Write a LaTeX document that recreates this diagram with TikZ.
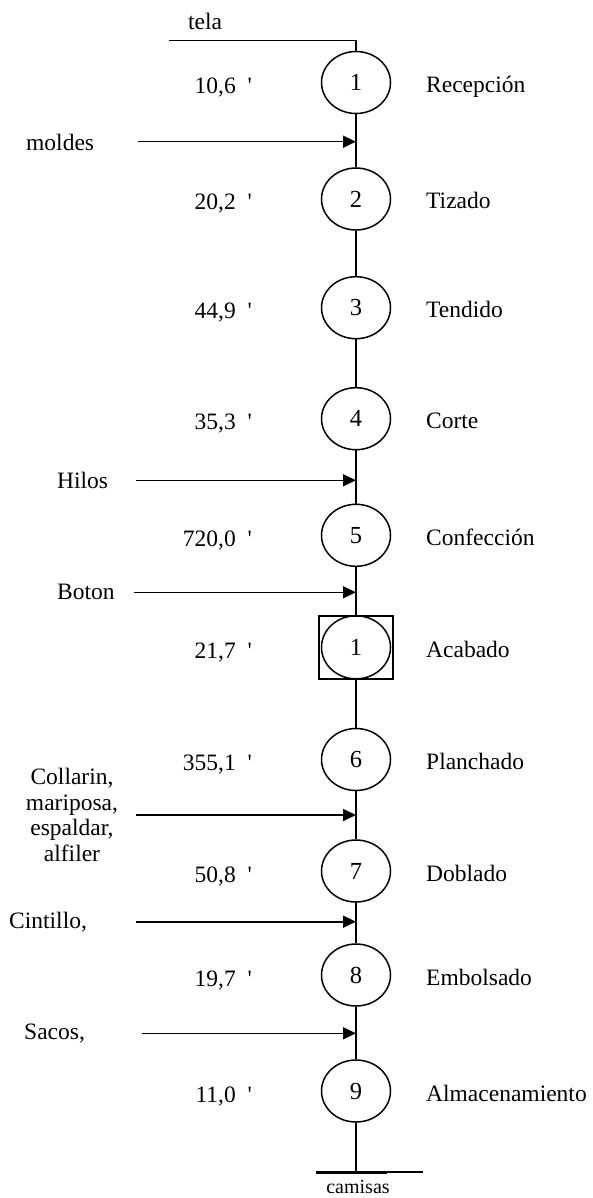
\documentclass[tikz,border=0pt]{standalone}
\usepackage{fontspec}
\setmainfont{Liberation Serif}
\usetikzlibrary{shapes.geometric,arrows.meta}

\begin{document}
\begin{tikzpicture}[x=1pt,y=-1pt,
  every node/.style={font=\fontsize{23.5}{25.5}\selectfont,inner sep=0pt},
  link/.style={line width=1.6pt},
  feed/.style={line width=1.6pt,-{Triangle[length=13pt,width=12pt]}},
  opcirc/.style={draw,ellipse,line width=1.5pt,minimum width=69pt,minimum height=62pt,inner sep=0pt,
    font=\fontsize{24.5}{26}\selectfont},
  inspbox/.style={draw,rectangle,line width=1.5pt,minimum width=74pt,minimum height=63pt,inner sep=0pt},
  timelbl/.style={anchor=base east},
  steplbl/.style={anchor=base west},
  inlbl/.style={anchor=west}]
\useasboundingbox (0,0) rectangle (592,1198);

% operation symbols down the process line
\node[opcirc] (c1) at (356,82.5) {1};
\node[opcirc] (c2) at (356,199) {2};
\node[opcirc] (c3) at (356,307.7) {3};
\node[opcirc] (c4) at (356,418.7) {4};
\node[opcirc] (c5) at (356,535.3) {5};
\node[inspbox] (sq) at (356,647.3) {};
\node[opcirc,minimum height=63pt] (c10) at (356,647.3) {1};
\node[opcirc] (c6) at (356,759.5) {6};
\node[opcirc] (c7) at (356,871) {7};
\node[opcirc] (c8) at (356,975) {8};
\node[opcirc] (c9) at (356,1091) {9};

% times
\node[timelbl] (t1) at (252,93.5) {10,6~~\textquotesingle};
\node[timelbl] (t2) at (252,210) {20,2~~\textquotesingle};
\node[timelbl] (t3) at (252,318.7) {44,9~~\textquotesingle};
\node[timelbl] (t4) at (252,429.7) {35,3~~\textquotesingle};
\node[timelbl] (t5) at (252,546.3) {720,0~~\textquotesingle};
\node[timelbl] (t6) at (252,658.3) {21,7~~\textquotesingle};
\node[timelbl] (t7) at (252,770.5) {355,1~~\textquotesingle};
\node[timelbl] (t8) at (252,882) {50,8~~\textquotesingle};
\node[timelbl] (t9) at (252,986) {19,7~~\textquotesingle};
\node[timelbl] (t10) at (252,1102) {11,0~~\textquotesingle};

% step names
\node[steplbl] (n1) at (426,92.5) {Recepción};
\node[steplbl] (n2) at (426,209) {Tizado};
\node[steplbl] (n3) at (426,317.7) {Tendido};
\node[steplbl] (n4) at (426,428.7) {Corte};
\node[steplbl] (n5) at (426,545.3) {Confección};
\node[steplbl] (n6) at (426,657.3) {Acabado};
\node[steplbl] (n7) at (426,769.5) {Planchado};
\node[steplbl] (n8) at (426,881) {Doblado};
\node[steplbl] (n9) at (426,985) {Embolsado};
\node[steplbl] (n10) at (426,1101) {Almacenamiento};

% main line between symbols
\draw[link] (c1) -- (c2);
\draw[link] (c2) -- (c3);
\draw[link] (c3) -- (c4);
\draw[link] (c4) -- (c5);
\draw[link] (c5) -- (sq);
\draw[link] (sq) -- (c6);
\draw[link] (c6) -- (c7);
\draw[link] (c7) -- (c8);
\draw[link] (c8) -- (c9);

% incoming material: tela
\node[anchor=base] (tela) at (205,30) {tela};
\coordinate (telaL) at (169,40.7);
\draw[link] (telaL) -| (c1.north);

% incoming materials with arrows
\node[inlbl] (moldes) at (26,142) {moldes};
\coordinate (moldesS) at (138,141.7);
\coordinate (moldesE) at (356,141.7);
\draw[feed] (moldesS) -- (moldesE);

\node[inlbl] (hilos) at (57,480.3) {Hilos};
\coordinate (hilosS) at (136,480.3);
\coordinate (hilosE) at (356,480.3);
\draw[feed] (hilosS) -- (hilosE);

\node[inlbl] (boton) at (57,592.3) {Boton};
\coordinate (botonS) at (134,592.3);
\coordinate (botonE) at (356,592.3);
\draw[feed] (botonS) -- (botonE);

\node[align=center] (coll) at (72,815) {Collarin,\\mariposa,\\espaldar,\\alfiler};
\coordinate (collS) at (136,815);
\coordinate (collE) at (356,815);
\draw[feed] (collS) -- (collE);

\node[inlbl] (cint) at (9,921.7) {Cintillo,};
\coordinate (cintS) at (136,921.7);
\coordinate (cintE) at (356,921.7);
\draw[feed] (cintS) -- (cintE);

\node[inlbl] (sacos) at (24,1033.3) {Sacos,};
\coordinate (sacosS) at (142,1033.3);
\coordinate (sacosE) at (356,1033.3);
\draw[feed] (sacosS) -- (sacosE);

% finished product
\coordinate (endP) at (356,1172);
\coordinate (baseL) at (316,1172);
\coordinate (baseM) at (387,1172);
\coordinate (baseR) at (423,1172);
\draw[link] (c9) -- (endP);
\draw[line width=1.5pt] (baseL) -- (baseR);
\draw[line width=3pt] (baseL) -- (baseM);
\node[font=\fontsize{20}{22}\selectfont] (camisas) at (358,1187) {camisas};
\end{tikzpicture}
\end{document}
